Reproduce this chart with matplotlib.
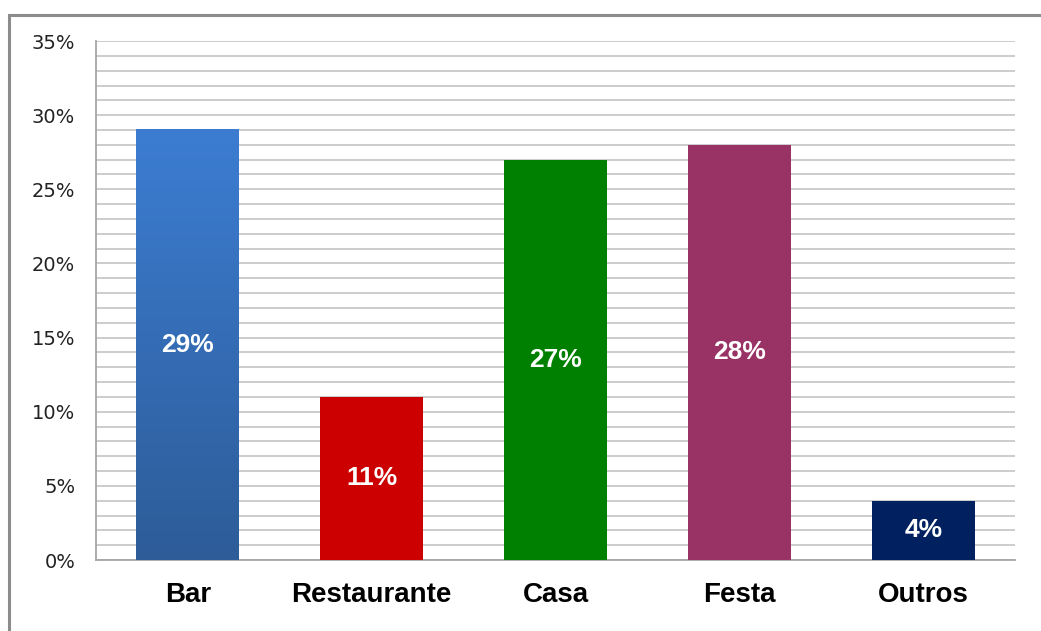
import numpy as np
import matplotlib.pyplot as plt
from matplotlib.patches import Rectangle
from matplotlib.colors import LinearSegmentedColormap
from matplotlib.ticker import MultipleLocator, FuncFormatter

# data
categories = ["Bar", "Restaurante", "Casa", "Festa", "Outros"]
values = [29, 11, 27, 28, 4]
colors = ["#3A7BCF", "#CC0000", "#008000", "#993366", "#002060"]

fig = plt.figure(figsize=(10.41, 6.31), dpi=100)
ax = fig.add_axes([0.0922, 0.1125, 0.883, 0.8225])

# outer frame
fig.patches.append(Rectangle((9 / 1041, -0.05), 1.1, 1 - 15 / 631 + 0.05,
                             transform=fig.transFigure, fill=False,
                             edgecolor="#8c8c8c", linewidth=2.2, zorder=0))

x = np.arange(len(categories))
bars = ax.bar(x, values, width=0.56, color=colors, zorder=3)

# gradient on first bar
grad = LinearSegmentedColormap.from_list("g", ["#2D5C98", "#3C7DD2"])
b = bars[0]
b.set_facecolor("none")
ax.imshow(np.linspace(0, 1, 256).reshape(-1, 1), cmap=grad, aspect="auto",
          origin="lower", zorder=3,
          extent=(b.get_x(), b.get_x() + b.get_width(), 0, b.get_height()))

for rect, v in zip(bars, values):
    ax.text(rect.get_x() + rect.get_width() / 2, v / 2, f"{v}%",
            ha="center", va="center", color="white", fontsize=19,
            fontweight="bold", family="Liberation Sans", zorder=5)

ax.set_xlim(-0.5, len(categories) - 0.5)
ax.set_ylim(0, 35)
ax.yaxis.set_major_locator(MultipleLocator(5))
ax.yaxis.set_minor_locator(MultipleLocator(1))
ax.yaxis.set_major_formatter(FuncFormatter(lambda v, p: f"{int(v)}%"))
ax.grid(axis="y", which="both", color="#c8c8c8", linewidth=1.3, zorder=0)
ax.set_axisbelow(True)

ax.set_xticks(x)
ax.set_xticklabels(categories, fontsize=20, fontweight="bold",
                   family="Liberation Sans")
ax.tick_params(axis="x", length=0, pad=16)
ax.tick_params(axis="y", which="both", length=0, pad=15, labelsize=14,
               labelcolor="#222222")

for s in ["top", "right"]:
    ax.spines[s].set_visible(False)
for s in ["left", "bottom"]:
    ax.spines[s].set_color("#a6a6a6")
    ax.spines[s].set_linewidth(1.3)

fig.savefig("out.png", dpi=100)
